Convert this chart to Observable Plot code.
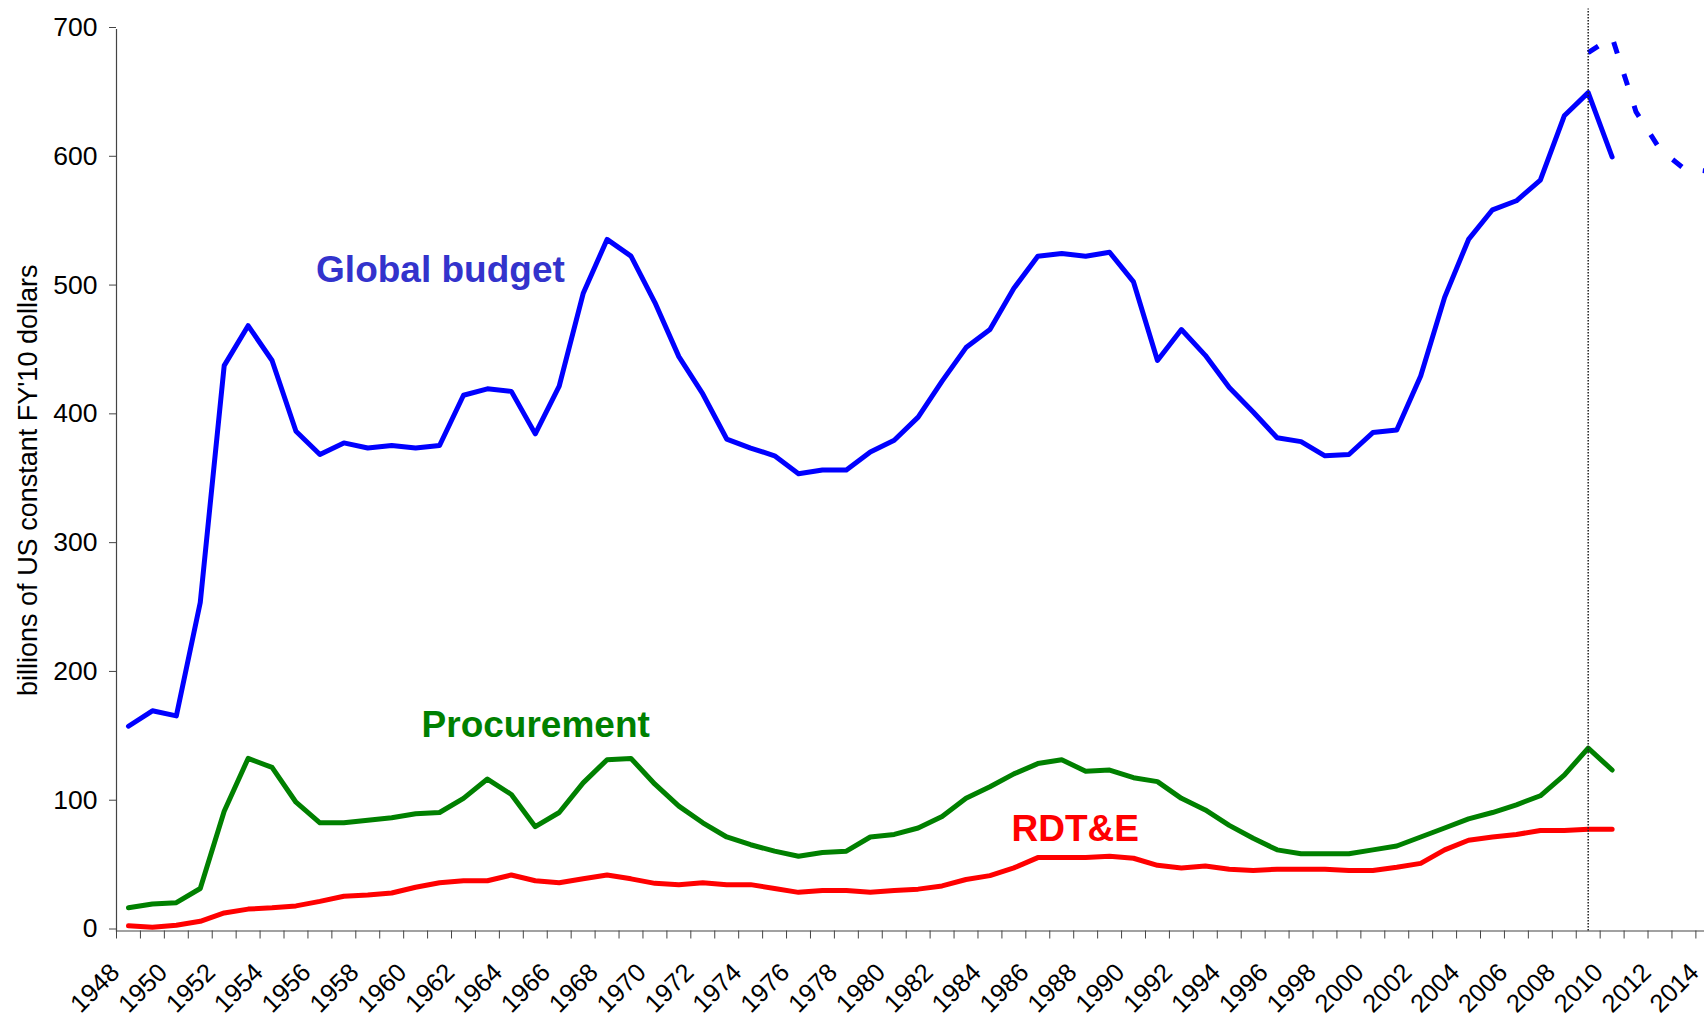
<!DOCTYPE html>
<html>
<head>
<meta charset="utf-8">
<script src="https://cdn.jsdelivr.net/npm/d3@7"></script>
<script src="https://cdn.jsdelivr.net/npm/@observablehq/plot@0.6"></script>
<style>
  html, body { margin: 0; padding: 0; background: #fff; overflow: hidden; }
</style>
</head>
<body>
<div id="chart"></div>
<script>
// ---- Data (billions of US constant FY'10 dollars) ----
const years = [
  1948, 1949, 1950, 1951, 1952, 1953, 1954, 1955, 1956, 1957,
  1958, 1959, 1960, 1961, 1962, 1963, 1964, 1965, 1966, 1967,
  1968, 1969, 1970, 1971, 1972, 1973, 1974, 1975, 1976, 1977,
  1978, 1979, 1980, 1981, 1982, 1983, 1984, 1985, 1986, 1987,
  1988, 1989, 1990, 1991, 1992, 1993, 1994, 1995, 1996, 1997,
  1998, 1999, 2000, 2001, 2002, 2003, 2004, 2005, 2006, 2007,
  2008, 2009, 2010
];
const globalBudget = [
  159, 171, 167, 255, 439, 470, 443, 388, 370, 379,
  375, 377, 375, 377, 416, 421, 419, 386, 423, 495,
  537, 524, 488, 446, 417, 382, 375, 369, 355, 358,
  358, 372, 381, 399, 427, 453, 467, 499, 524, 526,
  524, 527, 504, 443, 467, 447, 422, 403, 383, 380,
  369, 370, 387, 389, 431, 492, 537, 560, 567, 583,
  633, 651, 601
];
const procurement = [
  18, 21, 22, 33, 93, 134, 127, 100, 84, 84,
  86, 88, 91, 92, 103, 118, 106, 81, 92, 115,
  133, 134, 114, 97, 84, 73, 67, 62, 58, 61,
  62, 73, 75, 80, 89, 103, 112, 122, 130, 133,
  124, 125, 119, 116, 103, 94, 82, 72, 63, 60,
  60, 60, 63, 66, 73, 80, 87, 92, 98, 105,
  121, 142, 125
];
const rdte = [
  4, 3, 4.5, 7.5, 14, 17, 18, 19.5, 23, 27,
  28, 29.5, 34, 37.5, 39, 39, 43.5, 39, 37.5, 40.5,
  43.5, 40.5, 37, 36, 37.5, 36, 36, 33, 30, 31.5,
  31.5, 30, 31.5, 32.5, 35, 40, 43, 49, 57, 57,
  57, 58, 56.5, 51, 49, 50.5, 48, 47, 48, 48,
  48, 47, 47, 49.5, 52.5, 63, 70.5, 73, 75, 78,
  78, 79, 79
];
// projected global budget (dashed)
const projectionYears = [2009, 2010, 2011, 2012, 2013, 2014];
const projectionBudget = [682, 694, 636, 607, 592, 590];

// axes
const categoryYears = [
  1948, 1949, 1950, 1951, 1952, 1953, 1954, 1955, 1956, 1957, 1958, 1959,
  1960, 1961, 1962, 1963, 1964, 1965, 1966, 1967, 1968, 1969, 1970, 1971,
  1972, 1973, 1974, 1975, 1976, 1977, 1978, 1979, 1980, 1981, 1982, 1983,
  1984, 1985, 1986, 1987, 1988, 1989, 1990, 1991, 1992, 1993, 1994, 1995,
  1996, 1997, 1998, 1999, 2000, 2001, 2002, 2003, 2004, 2005, 2006, 2007,
  2008, 2009, 2010, 2011, 2012, 2013, 2014
];
const tickLabelYears = [
  1948, 1950, 1952, 1954, 1956, 1958, 1960, 1962, 1964, 1966, 1968, 1970,
  1972, 1974, 1976, 1978, 1980, 1982, 1984, 1986, 1988, 1990, 1992, 1994,
  1996, 1998, 2000, 2002, 2004, 2006, 2008, 2010, 2012, 2014
];
const yTicks = [0, 100, 200, 300, 400, 500, 600, 700];
const yTitle = "billions of US constant FY'10 dollars";

// vertical divider (current year) and series annotations
const dividerYear = 2009;
const dividerTop = 716;
const seriesNames = ["Global budget", "Procurement", "RDT&E"];
const seriesLabelYears = [1955.84, 1960.25, 1984.9];
const seriesLabelValues = [503.7, 151, 69.5];
const seriesLabelColors = ["#3333cc", "#008000", "#ff0000"];

// ---- Build tables ----
const rowsOf = (vals) => years.map((y, i) => ({year: y, value: vals[i]}));
const projectionRows = projectionYears.map((y, i) => ({year: y, value: projectionBudget[i]}));
const labelRows = seriesNames.map((n, i) => ({
  name: n, year: seriesLabelYears[i], value: seriesLabelValues[i], color: seriesLabelColors[i]
}));

const W = 1704, H = 1018;
const chart = Plot.plot({
  width: W,
  height: H,
  marginLeft: 116,
  marginRight: 0,
  marginTop: 29,
  marginBottom: 87.5,
  x: {domain: [1947.5, 2013.86]},
  y: {domain: [0, 700]},
  style: {
    fontFamily: "'Liberation Sans', Arial, Helvetica, sans-serif",
    fontSize: "26px",
    color: "#000",
    background: "#fff"
  },
  marks: [
    Plot.frame({anchor: "left", stroke: "#444", strokeWidth: 1.2}),
    Plot.frame({anchor: "bottom", stroke: "#444", strokeWidth: 1.2}),
    Plot.axisY({
      ticks: yTicks, tickSize: 7, tickPadding: 12, dy: -2,
      fontSize: 26.5, label: null, stroke: "#444", tickFormat: d => String(d)
    }),
    Plot.axisX({
      ticks: categoryYears.map(y => y - 0.5), tickSize: 8,
      tickFormat: () => null, label: null, stroke: "#444"
    }),
    Plot.text(tickLabelYears, {
      x: d => d, y: yTicks[0], text: d => String(d),
      rotate: -45, textAnchor: "end", lineAnchor: "bottom",
      dx: -7.5, dy: 43, fontSize: 25.5, fill: "#000"
    }),
    Plot.text([yTitle], {
      frameAnchor: "left", text: d => d, rotate: -90,
      textAnchor: "middle", lineAnchor: "bottom",
      dx: -79.5, fontSize: 27, fill: "#000"
    }),
    Plot.line(rowsOf(rdte), {
      x: "year", y: "value", stroke: "#ff0000", strokeWidth: 5,
      strokeLinejoin: "round", strokeLinecap: "round"
    }),
    Plot.line(rowsOf(procurement), {
      x: "year", y: "value", stroke: "#008000", strokeWidth: 5,
      strokeLinejoin: "round", strokeLinecap: "round"
    }),
    Plot.line(rowsOf(globalBudget), {
      x: "year", y: "value", stroke: "#0000ff", strokeWidth: 5,
      strokeLinejoin: "round", strokeLinecap: "round"
    }),
    Plot.line(projectionRows, {
      x: "year", y: "value", stroke: "#0000ff", strokeWidth: 5,
      strokeDasharray: "12,21.5", strokeLinecap: "butt", clip: true
    }),
    Plot.ruleX([dividerYear], {
      y1: 0, y2: dividerTop, stroke: "#222", strokeWidth: 1.5,
      strokeDasharray: "1.5,1.5"
    }),
    Plot.text(labelRows, {
      x: "year", y: "value", text: "name", fill: "color",
      textAnchor: "start", lineAnchor: "bottom",
      fontSize: 37, fontWeight: "bold"
    })
  ]
});
document.getElementById("chart").appendChild(chart);
</script>
</body>
</html>
